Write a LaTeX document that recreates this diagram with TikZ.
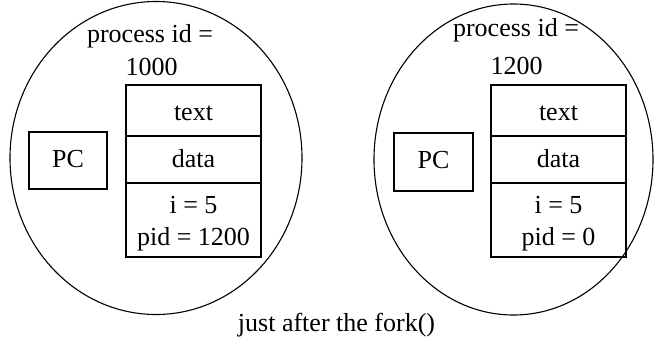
\documentclass[tikz,border=0pt]{standalone}
\usepackage{fontspec}
\setmainfont{Liberation Serif}
\begin{document}
\begin{tikzpicture}[x=1pt,y=-1pt,
  line width=1.1pt,
  cell/.style={draw, rectangle, inner sep=0pt},
  lbl/.style={inner sep=0pt, anchor=base, font=\fontsize{26}{28}\selectfont}]
\useasboundingbox (0,0) rectangle (654,338);

% parent process (pid 1000)
\draw (156,158) ellipse [x radius=146, y radius=156.5];
\node[lbl] (p1id) at (150,42.5) {process id =};
\node[lbl] (p1num) at (151.5,75) {1000};
\node[cell, minimum width=78pt, minimum height=57pt] (pc1) at (68,160.5) {};
\node[lbl] at (68,167.5) {PC};
\node[cell, minimum width=135pt, minimum height=51pt] (txt1) at (193.5,110.5) {};
\node[cell, minimum width=135pt, minimum height=47pt] (dat1) at (193.5,159.5) {};
\node[cell, minimum width=135pt, minimum height=74pt] (var1) at (193.5,220) {};
\node[lbl] at (193.5,120) {text};
\node[lbl] at (193.5,167) {data};
\node[lbl] at (193.5,213) {i = 5};
\node[lbl] at (193.5,245) {pid = 1200};

% child process (pid 1200)
\draw (513.5,159.5) ellipse [x radius=139.5, y radius=155.5];
\node[lbl] (p2id) at (516,36) {process id =};
\node[lbl] (p2num) at (516.5,74) {1200};
\node[cell, minimum width=79pt, minimum height=58pt] (pc2) at (433.5,162) {};
\node[lbl] at (433.5,168.5) {PC};
\node[cell, minimum width=135pt, minimum height=51pt] (txt2) at (558.5,110.5) {};
\node[cell, minimum width=135pt, minimum height=47pt] (dat2) at (558.5,159.5) {};
\node[cell, minimum width=135pt, minimum height=74pt] (var2) at (558.5,220) {};
\node[lbl] at (558.5,120) {text};
\node[lbl] at (558.5,167) {data};
\node[lbl] at (558.5,213) {i = 5};
\node[lbl] at (558.5,245) {pid = 0};

% caption
\node[lbl] (cap) at (336.5,331) {just after the fork()};
\end{tikzpicture}
\end{document}
